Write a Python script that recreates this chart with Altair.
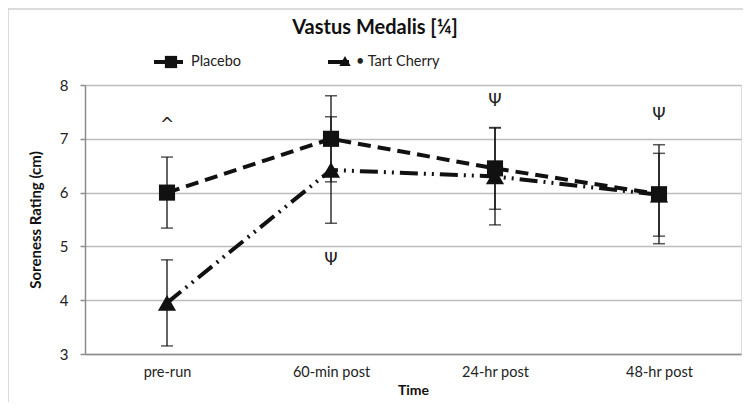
import altair as alt
import pandas as pd

times = ["pre-run", "60-min post", "24-hr post", "48-hr post"]
series = ["Placebo", "Tart Cherry"]
placebo_mean = [6.0, 7.0, 6.45, 5.97]
placebo_err = [0.66, 0.8, 0.76, 0.92]
cherry_mean = [3.95, 6.42, 6.3, 5.96]
cherry_err = [0.8, 0.99, 0.9, 0.77]
annot_time = ["pre-run", "60-min post", "24-hr post", "48-hr post"]
annot_y = [7.25, 4.75, 7.7, 7.45]
annot_text = ["^", "Ψ", "Ψ", "Ψ"]
title_text = "Vastus Medalis [¼]"

FONT = "Lato"

rows = []
for s, means, errs in [(series[0], placebo_mean, placebo_err), (series[1], cherry_mean, cherry_err)]:
    for t, m, e in zip(times, means, errs):
        rows.append({"Time": t, "series": s, "mean": m, "lo": m - e, "hi": m + e})
df = pd.DataFrame(rows)
ann = pd.DataFrame({"Time": annot_time, "y": annot_y, "txt": annot_text})

xenc = alt.X("Time:N", sort=times,
             scale=alt.Scale(type="point", padding=0.5),
             axis=alt.Axis(title="Time", labelAngle=0, ticks=False, domainColor="#8c8c8c",
                           domainWidth=1.5, labelPadding=11, labelFontSize=14.5,
                           titleFontSize=14, titleFontWeight="bold", titlePadding=5,
                           labelFont=FONT, titleFont=FONT, labelColor="#222", titleColor="#111"))
yscale = alt.Scale(domain=[3, 8], nice=False)
yenc = alt.Y("mean:Q", scale=yscale,
             axis=alt.Axis(title="Soreness Rating (cm)", values=[3, 4, 5, 6, 7, 8],
                           domainColor="#8c8c8c", domainWidth=1.5,
                           ticks=True, tickSize=5, tickColor="#8c8c8c", tickWidth=1.5,
                           gridColor="#bdbdbd", gridWidth=1.5, labelPadding=12,
                           labelFontSize=15, titleFontSize=15, titleFontWeight="bold",
                           titlePadding=16, labelFont=FONT, titleFont=FONT,
                           labelColor="#222", titleColor="#111"))

base = alt.Chart(df)

dash_map = alt.Scale(domain=series, range=[[13, 7], [18, 6, 2, 6, 2, 6]])

lines = base.mark_line(color="#111", strokeWidth=4).encode(
    x=xenc, y=yenc,
    strokeDash=alt.StrokeDash("series:N", scale=dash_map, legend=None),
    detail="series:N",
)

rules = base.mark_rule(color="#111", strokeWidth=1.3).encode(
    x=alt.X("Time:N", sort=times), y=alt.Y("lo:Q", scale=yscale), y2="hi:Q")
caps_hi = base.mark_tick(color="#111", thickness=1.5, size=12, orient="horizontal").encode(
    x=alt.X("Time:N", sort=times), y=alt.Y("hi:Q", scale=yscale))
caps_lo = base.mark_tick(color="#111", thickness=1.5, size=12, orient="horizontal").encode(
    x=alt.X("Time:N", sort=times), y=alt.Y("lo:Q", scale=yscale))

pts = base.mark_point(filled=True, opacity=1, color="#111").encode(
    x=alt.X("Time:N", sort=times), y=alt.Y("mean:Q", scale=yscale),
    shape=alt.Shape("series:N", scale=alt.Scale(domain=series, range=["square", "triangle-up"]), legend=None),
    size=alt.Size("series:N", scale=alt.Scale(domain=series, range=[260, 330]), legend=None),
)

annots = alt.Chart(ann).mark_text(fontSize=17, font="DejaVu Sans", color="#222").encode(
    x=alt.X("Time:N", sort=times), y=alt.Y("y:Q", scale=yscale), text="txt:N")

# custom legend
leg = pd.DataFrame({"series": series, "label": ["Placebo", "• Tart Cherry"]})
leg_p = alt.Chart(leg[leg.series == "Placebo"])
leg_c = alt.Chart(leg[leg.series == "Tart Cherry"])
ly = -23
legend = (
    leg_p.mark_rule(color="#111", strokeWidth=4).encode(x=alt.value(69), x2=alt.value(98), y=alt.value(ly))
    + leg_p.mark_point(shape="square", filled=True, opacity=1, color="#111", size=150).encode(x=alt.value(86), y=alt.value(ly))
    + leg_p.mark_text(align="left", fontSize=14.5, font=FONT, color="#222").encode(x=alt.value(106), y=alt.value(ly), text="label:N")
    + leg_c.mark_rule(color="#111", strokeWidth=4).encode(x=alt.value(243), x2=alt.value(264), y=alt.value(ly))
    + leg_c.mark_point(shape="triangle-up", filled=True, opacity=1, color="#111", size=130).encode(x=alt.value(260), y=alt.value(ly - 1))
    + leg_c.mark_text(align="left", fontSize=14.5, font=FONT, color="#222").encode(x=alt.value(271), y=alt.value(ly), text="label:N")
)

title_df = pd.DataFrame({"t": [title_text]})
title = alt.Chart(title_df).mark_text(fontSize=20, font=FONT, fontWeight="bold", color="#111",
                                       align="center", baseline="middle").encode(
    x=alt.value(290), y=alt.value(-57), text="t:N")

border = alt.Chart(leg.head(1)).mark_rect(fill=None, stroke="#d0d0d0", strokeWidth=1.5).encode(
    x=alt.value(-77), x2=alt.value(700), y=alt.value(-76), y2=alt.value(500))

chart = alt.layer(border, lines, rules, caps_hi, caps_lo, pts, annots, legend, title).properties(
    width=656, height=269,
    autosize=alt.AutoSizeParams(type="none"),
    padding={"left": 77, "top": 77, "right": 2, "bottom": 48},
).configure_view(stroke=None).configure(background="white")

chart.save("out.html", embed_options={"renderer": "svg", "actions": False})
